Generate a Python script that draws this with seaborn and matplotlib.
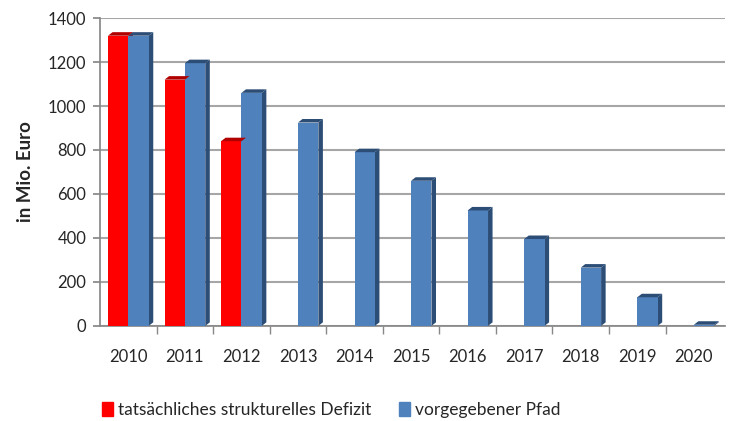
import seaborn as sns
import pandas as pd
import matplotlib.pyplot as plt
from matplotlib.patches import Polygon, Patch

sns.set_theme(style="white")
plt.rcParams['font.family'] = ['Lato', 'DejaVu Sans']

years = ['2010', '2011', '2012', '2013', '2014', '2015', '2016', '2017', '2018', '2019', '2020']
defizit = [1320, 1120, 840, None, None, None, None, None, None, None, None]
pfad = [1320, 1195, 1060, 925, 790, 660, 525, 395, 265, 130, 5]

lab_red = "tatsächliches strukturelles Defizit"
lab_blue = "vorgegebener Pfad"

df = pd.DataFrame({
    'Jahr': years * 2,
    'Wert': defizit + pfad,
    'Reihe': [lab_red] * len(years) + [lab_blue] * len(years),
})

colors = {lab_red: '#ff0000', lab_blue: '#4f81bd'}
sides = {lab_red: '#b00000', lab_blue: '#2c4d75'}

fig = plt.figure(figsize=(7.36, 4.21), dpi=100)
ax = fig.add_axes([0.136, 0.226, 0.849, 0.731])

sns.barplot(data=df, x='Jahr', y='Wert', hue='Reihe', palette=colors,
            width=0.72, saturation=1, ax=ax, legend=False, zorder=3,
            edgecolor='none', linewidth=0)

# fake 3D: side face + top face on each bar
dx, dy = 0.08, 16
for cont, name in zip(ax.containers, [lab_red, lab_blue]):
    for p in cont.patches:
        h = p.get_height()
        if not h == h:  # nan
            continue
        x0 = p.get_x()
        x1 = x0 + p.get_width()
        side = Polygon([(x1, 0), (x1 + dx, dy), (x1 + dx, h + dy), (x1, h)],
                       closed=True, color=sides[name], zorder=2.9, lw=0)
        top = Polygon([(x0, h), (x0 + dx, h + dy), (x1 + dx, h + dy), (x1, h)],
                      closed=True, color=sides[name], zorder=3.1, lw=0)
        ax.add_patch(side)
        ax.add_patch(top)

ax.set_ylim(0, 1400)
ax.set_yticks(range(0, 1401, 200))
ax.set_xlim(-0.5, len(years) - 0.45)
ax.set_xticks([i + 0.5 for i in range(len(years) - 1)], minor=True)
ax.yaxis.grid(True, color='#a6a6a6', lw=1.5, zorder=0)
ax.set_axisbelow(True)
for s in ['top', 'right']:
    ax.spines[s].set_visible(False)
ax.spines['left'].set_color('#888888')
ax.spines['bottom'].set_color('#888888')
ax.tick_params(axis='y', left=True, length=5, color='#888888', labelsize=12, pad=5)
ax.tick_params(axis='x', which='major', bottom=False, labelsize=12, pad=11)
ax.tick_params(axis='x', which='minor', bottom=True, length=6, color='#888888')
ax.set_xlabel('')
ax.set_ylabel('in Mio. Euro', fontsize=13.5, fontweight='bold', labelpad=10)

handles = [Patch(color=colors[lab_red], label=lab_red),
           Patch(color=colors[lab_blue], label=lab_blue)]
fig.legend(handles=handles, loc='lower left', bbox_to_anchor=(0.118, -0.03),
           ncol=2, frameon=False, fontsize=12.5, handlelength=0.6, handleheight=0.9,
           handletextpad=0.3, columnspacing=1.6)

fig.savefig('out.png', dpi=100)
